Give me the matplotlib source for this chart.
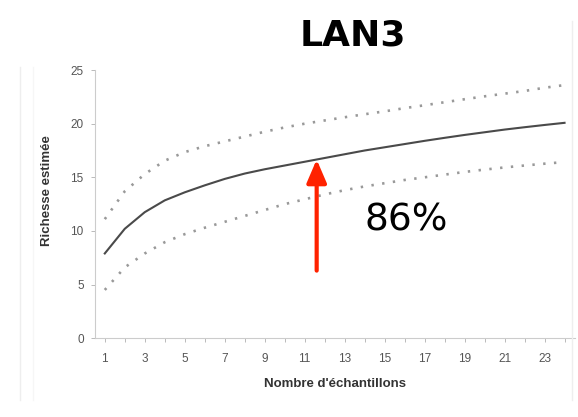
import numpy as np
import matplotlib
matplotlib.use("Agg")
import matplotlib.pyplot as plt
from matplotlib.lines import Line2D

# sample counts and estimated richness (mean + confidence bounds)
samples = list(range(1, 25))
mean = [7.9, 10.2, 11.75, 12.85, 13.6, 14.25, 14.85, 15.35, 15.75, 16.1, 16.45, 16.8,
        17.15, 17.5, 17.8, 18.1, 18.4, 18.68, 18.95, 19.2, 19.45, 19.67, 19.88, 20.08]
upper = [11.1, 13.7, 15.3, 16.55, 17.35, 17.9, 18.35, 18.8, 19.25, 19.65, 20.0, 20.3,
         20.6, 20.88, 21.15, 21.45, 21.72, 22.0, 22.28, 22.55, 22.8, 23.05, 23.35, 23.6]
lower = [4.5, 6.6, 7.9, 8.95, 9.7, 10.3, 10.85, 11.4, 11.95, 12.5, 12.95, 13.4,
         13.8, 14.15, 14.45, 14.75, 15.0, 15.25, 15.5, 15.72, 15.92, 16.1, 16.27, 16.42]
x_labels = [1, 3, 5, 7, 9, 11, 13, 15, 17, 19, 21, 23]
y_ticks = [0, 5, 10, 15, 20, 25]
arrow_x = 11.6
arrow_base = 6.3
pct_label = "86%"

plt.rcParams['font.family'] = ['Liberation Sans', 'DejaVu Sans']

fig = plt.figure(figsize=(5.78, 4.17), dpi=100)
ax = fig.add_axes([0.164, 0.189, 0.83, 0.643])

ax.plot(samples, mean, color='#4a4a4a', lw=1.5)
ax.plot(samples, upper, color='#999999', lw=1.9, linestyle=(0, (0.9, 3.2)))
ax.plot(samples, lower, color='#999999', lw=1.9, linestyle=(0, (0.9, 3.2)))

ax.set_xlim(0.5, 24.5)
ax.set_ylim(0, 25)
ax.set_xticks(x_labels)
ax.set_xticks(samples, minor=True)
ax.set_yticks(y_ticks)
ax.tick_params(axis='both', labelsize=8.5, colors='#b0b0b0', labelcolor='#555555',
               length=3, width=0.6)
ax.tick_params(axis='x', which='minor', length=3, width=0.6, colors='#b0b0b0')
ax.tick_params(axis='x', pad=8)
ax.tick_params(axis='y', pad=5)
for s in ['top', 'right']:
    ax.spines[s].set_visible(False)
for s in ['left', 'bottom']:
    ax.spines[s].set_color('#cccccc')
    ax.spines[s].set_linewidth(0.8)

ax.set_xlabel("Nombre d'échantillons", fontsize=9.5, fontweight='bold', color='#333333')
ax.xaxis.set_label_coords(0.5, -0.15)
ax.set_ylabel("Richesse estimée", fontsize=9.5, fontweight='bold', color='#333333')
ax.yaxis.set_label_coords(-0.087, 0.55)

# red arrow pointing at the mean curve
tip = np.interp(arrow_x, samples, mean)
ax.annotate('', xy=(arrow_x, tip), xytext=(arrow_x, arrow_base),
            arrowprops=dict(arrowstyle='-|>,head_width=0.6,head_length=1.4',
                            color='#ff2200', lw=3, shrinkA=0, shrinkB=0))
ax.text(16.1, 11.0, pct_label, fontsize=27, color='black', ha='center', va='center',
        family='DejaVu Sans')

fig.text(0.61, 0.915, "LAN3", fontsize=26, fontweight='bold', ha='center', va='center',
         family='DejaVu Sans')

# faint frame lines of the pasted chart
fig.add_artist(Line2D([0.035, 0.035], [0.04, 0.84], color='#eeeeee', lw=1))
fig.add_artist(Line2D([0.057, 0.057], [0.04, 0.84], color='#f6f6f6', lw=1))
fig.add_artist(Line2D([0.99, 0.99], [0.04, 0.95], color='#eeeeee', lw=1))

fig.savefig('out.png', dpi=100)
